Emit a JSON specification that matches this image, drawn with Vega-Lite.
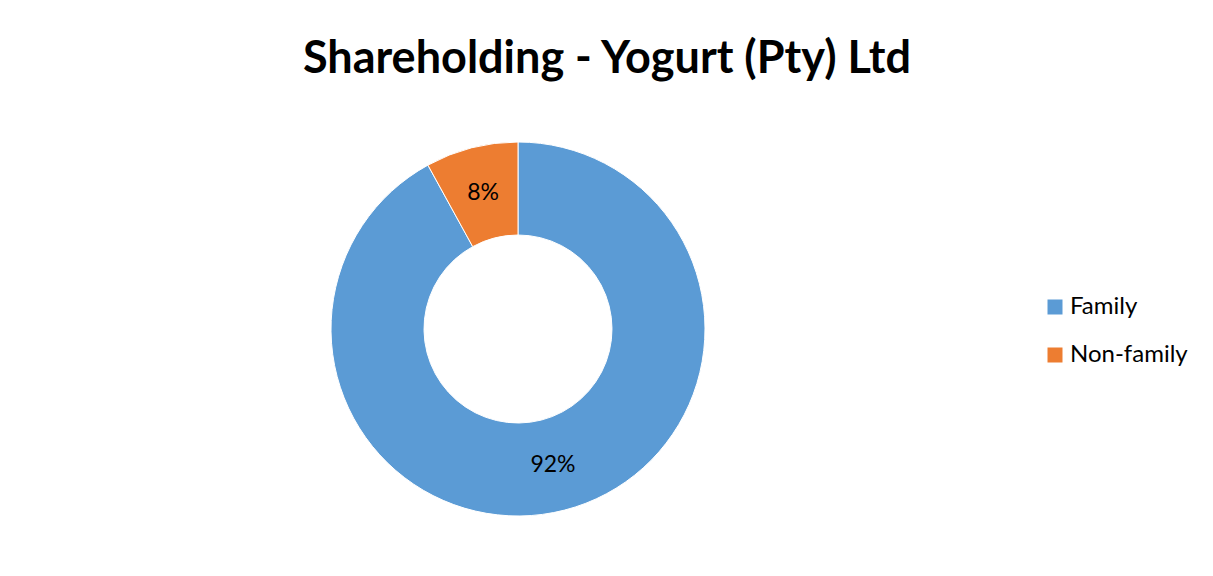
{
  "$schema": "https://vega.github.io/schema/vega-lite/v6.json",
  "width": 1036,
  "height": 494,
  "autosize": "none",
  "padding": {"left": 0, "top": 82, "right": 177, "bottom": 0},
  "background": "white",
  "config": {"view": {"stroke": null}},
  "title": {
    "text": "Shareholding - Yogurt (Pty) Ltd",
    "font": "Lato",
    "fontSize": 45,
    "fontWeight": "bold",
    "color": "#000000",
    "anchor": "middle",
    "dx": 89,
    "baseline": "alphabetic",
    "offset": -36
  },
  "data": {
    "values": [
      {"group": "Family", "share": 0.92},
      {"group": "Non-family", "share": 0.08}
    ]
  },
  "encoding": {
    "theta": {"field": "share", "type": "quantitative", "stack": true},
    "order": {"field": "group", "type": "ordinal", "sort": "ascending"}
  },
  "layer": [
    {
      "mark": {"type": "arc", "outerRadius": 187, "innerRadius": 94, "stroke": "white", "strokeWidth": 1},
      "encoding": {
        "color": {
          "field": "group",
          "type": "nominal",
          "scale": {"domain": ["Family", "Non-family"], "range": ["#5B9BD5", "#ED7D31"]},
          "legend": {
            "orient": "none",
            "legendX": 1043,
            "legendY": 213,
            "title": null,
            "padding": 0,
            "symbolType": "square",
            "symbolSize": 225,
            "symbolStrokeWidth": 0,
            "labelFont": "Lato",
            "labelFontSize": 24,
            "labelColor": "#000000",
            "labelOffset": 3,
            "rowPadding": 24
          }
        }
      }
    },
    {
      "mark": {"type": "text", "radius": 140.5, "font": "Lato", "fontSize": 23, "color": "#000000"},
      "encoding": {
        "text": {"field": "share", "type": "quantitative", "format": ".0%"},
        "detail": {"field": "group", "type": "nominal"}
      }
    }
  ]
}
